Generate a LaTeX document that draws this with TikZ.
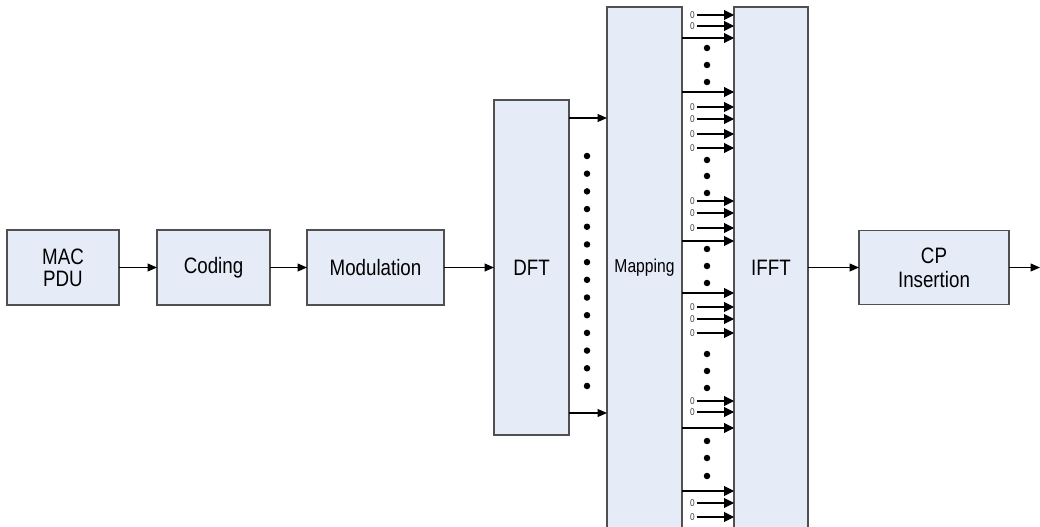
\documentclass[tikz,border=0pt]{standalone}
\usepackage{fontspec}
\setmainfont{Liberation Sans}[FakeStretch=0.84]
\usetikzlibrary{positioning, arrows.meta}

\definecolor{blockfill}{HTML}{E6ECF7}
\definecolor{blockline}{HTML}{505050}
\definecolor{zerogray}{HTML}{404040}
\tikzset{
  block/.style={draw=blockline, fill=blockfill, line width=0.6pt, minimum height=1.5cm,
    align=center, inner sep=0pt, outer sep=0pt, font=\fontsize{12.7}{12.5}\selectfont},
  sig/.style={-{Triangle[length=0.19cm,width=0.16cm]}, line width=0.6pt},
  bus/.style={-{Triangle[length=0.2cm,width=0.2cm]}, line width=0.6pt},
  zero/.style={anchor=east, inner ysep=0pt, inner xsep=0.03cm, text=zerogray,
    font=\fontsize{5.6}{6}\selectfont},
  dot/.style={circle, fill=black, inner sep=0pt, minimum size=0.13cm},
}

\begin{document}
\begin{tikzpicture}[node distance=0.76cm, auto]
    \useasboundingbox (0,0) rectangle (20.8,-10.54);
    \node[block, minimum width=2.24cm] (mac) at (1.26,-5.35) {MAC\\PDU};
    \node[block, minimum width=2.26cm] (coding) [right=of mac] {Coding};
    \node[block, minimum width=2.74cm] (modulation) [right=0.74cm of coding] {Modulation};
    \node[block, minimum width=1.5cm, minimum height=6.7cm] (dft) [right=1cm of modulation] {DFT};
    \node[block, minimum width=1.5cm, minimum height=10.42cm,
          font=\fontsize{10.6}{12}\selectfont] (mapping) [right=of dft] {Mapping};
    \node[block, minimum width=1.48cm, minimum height=10.42cm] (ifft) [right=1.04cm of mapping] {IFFT};
    \node[block, minimum width=3cm, minimum height=1.48cm,
          font=\fontsize{12.7}{13.5}\selectfont] (cp) [right=1.02cm of ifft] {CP\\Insertion};
    \coordinate (out) at (20.8,-5.35);

    \path[sig]
        (mac)        edge (coding)
        (coding)     edge (modulation)
        (modulation) edge (dft)
        (ifft)       edge (cp)
        (cp)         edge (out);

    % DFT outputs
    \foreach \y in {2.36, 8.26}
        \draw[sig] (dft.east |- 0,-\y) -- (mapping.west |- 0,-\y);
    \foreach \i in {0,...,13}
        \node[dot] (dd\i) at (11.74, {-3.12-\i*0.3538}) {};

    % mapped subcarriers
    \foreach \y in {0.76, 1.84, 4.82, 5.86, 8.56, 9.82}
        \draw[bus] (mapping.east |- 0,-\y) -- (ifft.west |- 0,-\y);
    % zero padded subcarriers
    \foreach \y [count=\i] in {0.3, 0.52, 2.14, 2.38, 2.68, 2.96, 4.02, 4.26, 4.56,
                               6.14, 6.38, 6.66, 8.02, 8.24, 10.06, 10.34} {
        \node[zero] (z\i) at (13.93,-\y) {0};
        \draw[bus] (z\i.east) -- (z\i.east -| ifft.west);
    }
    \foreach \y [count=\i] in {0.96, 1.3, 1.64, 3.2, 3.52, 3.86, 4.98, 5.32, 5.66,
                               7.08, 7.42, 7.76, 8.82, 9.16, 9.52}
        \node[dot] (md\i) at (14.14,-\y) {};
\end{tikzpicture}
\end{document}
